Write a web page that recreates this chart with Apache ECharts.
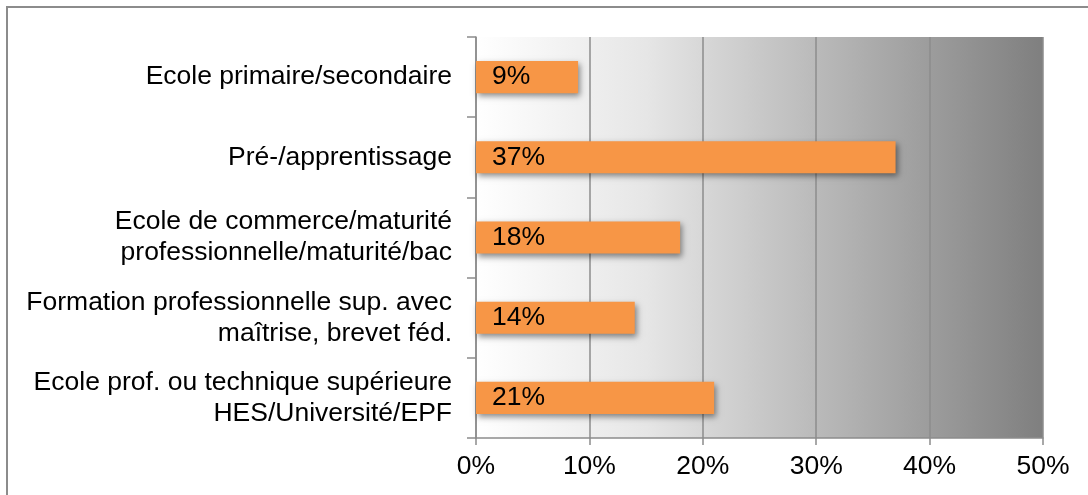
<!DOCTYPE html>
<html>
<head>
<meta charset="utf-8">
<script src="https://cdn.jsdelivr.net/npm/echarts@6/dist/echarts.min.js"></script>
<style>
  html, body { margin: 0; padding: 0; background: #fff; }
  #chart { width: 1088px; height: 495px; }
</style>
</head>
<body>
<div id="chart"></div>
<script>
// catégories (de haut en bas)
var categories = [
  'Ecole primaire/secondaire',
  'Pré-/apprentissage',
  'Ecole de commerce/maturité\nprofessionnelle/maturité/bac',
  'Formation professionnelle sup. avec\nmaîtrise, brevet féd.',
  'Ecole prof. ou technique supérieure\nHES/Université/EPF'
];
var values = [9, 37, 18, 14, 21];
var ticks = [0, 10, 20, 30, 40, 50];

var myChart = echarts.init(document.getElementById('chart'));
var font = '"Liberation Sans", Arial, sans-serif';
var fs = 26.5;

var option = {
    animation: false,
    textStyle: { fontFamily: font },
    graphic: [
        {
            type: 'rect',
            shape: { x: 7, y: 7, width: 1200, height: 600 },
            style: { fill: 'none', stroke: '#8c8c8c', lineWidth: 2 },
            z: 100
        }
    ],
    grid: {
        left: 476,
        right: 45,
        top: 37,
        bottom: 57,
        show: true,
        borderWidth: 0,
        backgroundColor: new echarts.graphic.LinearGradient(0, 0, 1, 0, [
            { offset: 0, color: '#ffffff' },
            { offset: 0.3, color: '#e6e6e6' },
            { offset: 1, color: '#7f7f7f' }
        ])
    },
    xAxis: {
        type: 'value',
        min: ticks[0],
        max: ticks[ticks.length - 1],
        interval: 10,
        axisLine: { show: true, lineStyle: { color: '#8c8c8c', width: 1.5 } },
        axisTick: { show: true, length: 7, lineStyle: { color: '#8c8c8c', width: 1.5 } },
        splitLine: { show: true, lineStyle: { color: '#8c8c8c', width: 1.5 } },
        axisLabel: {
            formatter: '{value}%',
            fontSize: fs,
            color: '#000',
            margin: 15,
            fontFamily: font
        }
    },
    yAxis: {
        type: 'category',
        inverse: true,
        data: categories,
        axisLine: { show: true, lineStyle: { color: '#8c8c8c', width: 1.5 } },
        axisTick: { show: true, length: 9, lineStyle: { color: '#8c8c8c', width: 1.5 } },
        axisLabel: {
            fontSize: fs,
            color: '#000',
            margin: 24,
            lineHeight: 31,
            align: 'right',
            fontFamily: font
        }
    },
    series: [
        {
            type: 'bar',
            data: values,
            barWidth: '40%',
            itemStyle: {
                color: '#F79646',
                shadowColor: 'rgba(0,0,0,0.45)',
                shadowBlur: 6,
                shadowOffsetX: 2,
                shadowOffsetY: 3
            },
            label: {
                show: true,
                position: 'insideLeft',
                distance: 16,
                formatter: '{c}%',
                fontSize: fs,
                color: '#000',
                fontFamily: font
            }
        }
    ]
};

myChart.setOption(option);
</script>
</body>
</html>
